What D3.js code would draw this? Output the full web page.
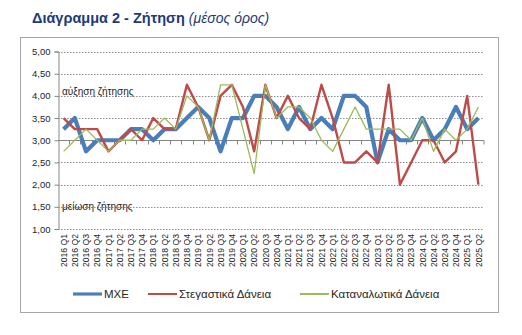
<!DOCTYPE html>
<html>
<head>
<meta charset="utf-8">
<script src="https://cdn.jsdelivr.net/npm/d3@7"></script>
<style>
  html, body { margin: 0; padding: 0; background: #fff; }
  svg { display: block; font-family: "Liberation Sans", Arial, sans-serif; }
</style>
</head>
<body>
<svg id="chart" width="522" height="335"></svg>
<script>
const quarters = [];
const years = [2016,2017,2018,2019,2020,2021,2022,2023,2024,2025];
years.forEach(y => ["Q1","Q2","Q3","Q4"].forEach(q => { if (!(y === 2025 && (q === "Q3" || q === "Q4"))) quarters.push(y + " " + q); }));

const mxe = [3.25,3.5,2.75,3.0,3.0,3.0,3.25,3.25,3.0,3.25,
             3.25,3.5,3.75,3.5,2.75,3.5,3.5,4.0,4.0,3.75,
             3.25,3.75,3.25,3.5,3.25,4.0,4.0,3.75,2.5,3.25,
             3.0,3.0,3.5,3.0,3.25,3.75,3.25,3.5];
const stegastika = [3.5,3.25,3.25,3.25,2.75,3.0,3.25,3.0,3.5,3.25,
                    3.25,4.25,3.75,3.0,4.0,4.25,3.75,2.75,4.25,3.5,
                    4.0,3.5,3.25,4.25,3.5,2.5,2.5,2.75,2.5,4.25,
                    2.0,2.5,3.0,3.0,2.5,2.75,4.0,2.0];
const katanalotika = [2.75,3.0,3.25,3.0,2.75,3.0,3.0,3.25,3.25,3.5,
                      3.25,4.0,3.75,3.0,4.25,4.25,3.25,2.25,4.25,3.5,
                      3.75,3.75,3.5,3.0,2.75,3.25,3.75,3.25,3.25,3.25,
                      3.25,3.0,3.5,2.75,3.25,3.0,3.25,3.75];
const yTicks = [1,1.5,2,2.5,3,3.5,4,4.5,5];
const seriesNames = ["ΜΧΕ","Στεγαστικά Δάνεια","Καταναλωτικά Δάνεια"];

const series = [
  { name: seriesNames[0], values: mxe, color: "#4A7EBB", width: 4.2 },
  { name: seriesNames[1], values: stegastika, color: "#BE4B48", width: 2.4 },
  { name: seriesNames[2], values: katanalotika, color: "#9BBB59", width: 1.3 }
];

const svg = d3.select("#chart");

// title
const title = svg.append("text").attr("x", 32).attr("y", 23)
  .attr("fill", "#1F3A78").style("font-size", "14.5px");
title.append("tspan").style("font-weight", "bold").text("Διάγραμμα 2 - Ζήτηση ");
title.append("tspan").style("font-style", "italic").style("font-size", "14px").text("(μέσος όρος)");

// chart frame
svg.append("rect").attr("x", 20.5).attr("y", 37.5).attr("width", 478).attr("height", 275)
  .attr("fill", "none").attr("stroke", "#A6A6A6").attr("stroke-width", 1);

const x = d3.scaleBand().domain(quarters).range([58, 484]).padding(0);
const y = d3.scaleLinear().domain([1, 5]).range([229, 51.5]);
const cx = d => x(d) + x.bandwidth() / 2;

// gridlines
svg.append("g").selectAll("line").data(yTicks.filter(v => v !== 3)).join("line")
  .attr("x1", 58).attr("x2", 484)
  .attr("y1", d => Math.round(y(d)) + 0.5).attr("y2", d => Math.round(y(d)) + 0.5)
  .attr("stroke", "#8C8C8C").attr("stroke-width", 1).attr("stroke-dasharray", "1.5,1.5");

// y axis
const yAxis = d3.axisLeft(y).tickValues(yTicks).tickSize(4)
  .tickFormat(d => d3.format(".2f")(d).replace(".", ","));
const gy = svg.append("g").attr("transform", "translate(58.5,0)").call(yAxis);
gy.select(".domain").attr("stroke", "#868686");
gy.selectAll(".tick line").attr("stroke", "#868686");
gy.selectAll(".tick text").attr("fill", "#262626").style("font-size", "9.5px")
  .style("font-family", "'Liberation Sans', Arial, sans-serif").attr("x", -8);

// x axis line at 3.00 with boundary ticks
const y3 = Math.round(y(3)) + 0.5;
svg.append("line").attr("x1", 58).attr("x2", 484).attr("y1", y3).attr("y2", y3)
  .attr("stroke", "#868686").attr("stroke-width", 1);
svg.append("g").selectAll("line").data(quarters.slice(1).concat(["__end"])).join("line")
  .attr("x1", d => d === "__end" ? 484 : Math.round(x(d)) + 0.5)
  .attr("x2", d => d === "__end" ? 484 : Math.round(x(d)) + 0.5)
  .attr("y1", y3).attr("y2", y3 + 4)
  .attr("stroke", "#868686");

// category labels
svg.append("g").selectAll("text").data(quarters).join("text")
  .attr("transform", d => `translate(${cx(d) + 3.2},234) rotate(-90)`)
  .attr("text-anchor", "end").attr("fill", "#262626")
  .style("font-size", "8.6px").text(d => d);

// annotations
svg.append("text").attr("x", 62).attr("y", 95).attr("fill", "#262626").style("font-size", "10px").text("αύξηση ζήτησης");
svg.append("text").attr("x", 62).attr("y", 210).attr("fill", "#262626").style("font-size", "10px").text("μείωση ζήτησης");

// lines
const line = d3.line().x((d, i) => cx(quarters[i])).y(d => y(d)).curve(d3.curveLinear);
svg.append("g").selectAll("path").data(series).join("path")
  .attr("d", d => line(d.values))
  .attr("fill", "none").attr("stroke", d => d.color)
  .attr("stroke-width", d => d.width).attr("stroke-linejoin", "round");

// legend
const legendX = [73, 148, 300];
const lg = svg.append("g").selectAll("g").data(series).join("g")
  .attr("transform", (d, i) => `translate(${legendX[i]},294)`);
lg.append("line").attr("x1", 0).attr("x2", 29).attr("y1", 0).attr("y2", 0)
  .attr("stroke", d => d.color).attr("stroke-width", d => Math.max(d.width * 0.75, 2));
lg.append("text").attr("x", 31).attr("y", 4).attr("fill", "#262626")
  .style("font-size", "11.5px").text(d => d.name);
</script>
</body>
</html>
